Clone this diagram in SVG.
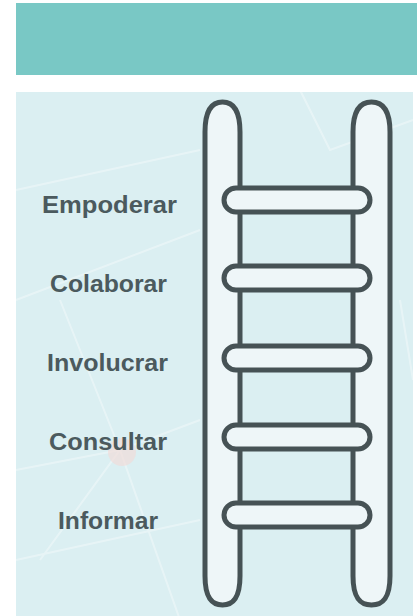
<svg xmlns="http://www.w3.org/2000/svg" width="417" height="616" viewBox="0 0 417 616">
<style>
.lbl{font-family:"Liberation Sans",Arial,sans-serif;font-weight:bold;font-size:23px;fill:#4b5a5e;text-anchor:middle}
.rail{fill:#eef6f8;stroke:#465255;stroke-width:5}
.rung{fill:#eef6f8;stroke:#465255;stroke-width:5}
.bgl{stroke:#ffffff;stroke-opacity:0.35;stroke-width:2;fill:none}
</style>
<rect x="0" y="0" width="417" height="616" fill="#ffffff"/>
<rect id="header" x="16" y="3" width="401" height="72" fill="#79c8c5"/>
<g id="panel">
<rect x="16" y="92" width="397" height="524" fill="#dbeff2"/>
<path class="bgl" d="M16,190 L200,150 M16,300 L200,230 M40,560 L120,450 L180,620 M16,470 L120,450 L200,420 M120,450 L60,300 M300,90 L330,150 L413,120 M400,300 L413,380 M16,560 L200,520"/>
<circle cx="122" cy="452" r="14" fill="#f3d8d6" opacity="0.6"/>
</g>
<g id="ladder">
<path class="rail" d="M205,132 C205,110 212,102 222.5,102 C233,102 240,110 240,132 L240,576 C240,598 233,605 222.5,605 C212,605 205,598 205,576 Z"/>
<path class="rail" d="M353,132 C353,110 360,102 371.5,102 C383,102 390,110 390,132 L390,576 C390,598 383,605 371.5,605 C360,605 353,598 353,576 Z"/>
<rect class="rung" x="224" y="188" width="146" height="24" rx="12"/>
<rect class="rung" x="224" y="266" width="146" height="24" rx="12"/>
<rect class="rung" x="224" y="346" width="146" height="24" rx="12"/>
<rect class="rung" x="224" y="425" width="146" height="24" rx="12"/>
<rect class="rung" x="224" y="503" width="146" height="24" rx="12"/>
</g>
<g id="labels">
<text class="lbl" x="109.5" y="213" textLength="135" lengthAdjust="spacingAndGlyphs">Empoderar</text>
<text class="lbl" x="108.5" y="292" textLength="117" lengthAdjust="spacingAndGlyphs">Colaborar</text>
<text class="lbl" x="107.5" y="371" textLength="121" lengthAdjust="spacingAndGlyphs">Involucrar</text>
<text class="lbl" x="108" y="450" textLength="118" lengthAdjust="spacingAndGlyphs">Consultar</text>
<text class="lbl" x="108" y="529" textLength="100" lengthAdjust="spacingAndGlyphs">Informar</text>
</g>
</svg>
